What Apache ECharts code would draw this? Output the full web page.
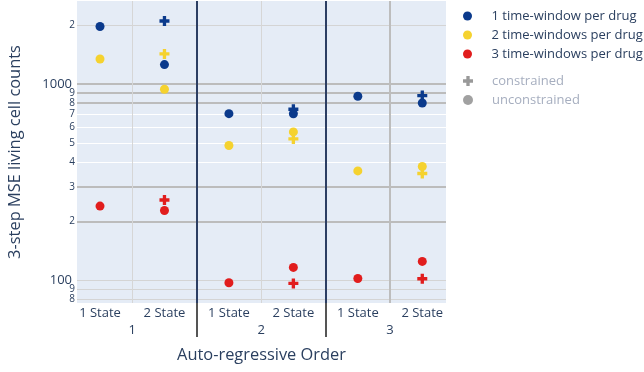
<!DOCTYPE html>
<html>
<head>
<meta charset="utf-8">
<script src="https://cdn.jsdelivr.net/npm/echarts@6/dist/echarts.min.js"></script>
<style>
  html, body { margin: 0; padding: 0; background: #fff; }
  #chart { width: 644px; height: 372px; }
</style>
</head>
<body>
<div id="chart"></div>
<script>
// Outer categories (auto-regressive order) and inner categories (number of states)
const orders = ['1', '2', '3'];
const states = ['1 State', '2 State'];
const windowNames = ['1 time-window per drug', '2 time-windows per drug', '3 time-windows per drug'];
const windowColors = ['#0b3a8c', '#f5d22f', '#e11d1d'];

// Unconstrained fits: one value per (order, state), ordered 1/1S, 1/2S, 2/1S, 2/2S, 3/1S, 3/2S
const oneWindowFree = [1960, 1254, 706, 705, 866, 800];
const twoWindowsFree = [1340, 940, 486, 570, 361, 380];
const threeWindowsFree = [239, 227, 97.4, 116.5, 102.3, 125];

// Constrained fits exist only for the 2-state models, one value per order
const oneWindowConstrained = [2090, 743, 872];
const twoWindowsConstrained = [1421, 525, 350];
const threeWindowsConstrained = [256.6, 96.6, 102];

// Log-axis ticks and their labels
const yTickValues = [80, 90, 100, 200, 300, 400, 500, 600, 700, 800, 900, 1000, 2000];
const yTickLabels = ['8', '9', '100', '2', '3', '4', '5', '6', '7', '8', '9', '1000', '2'];

const FONT = '"Open Sans", "DejaVu Sans", sans-serif';
const TEXT = '#2a3f5f';
const CROSS = 'path://M4,0H8V4H12V8H8V12H4V8H0V4H4Z';

// position of each (order, state) pair on the x scale
const slot = (o, s) => o * states.length + s;
const slots = [];
orders.forEach((o, oi) => states.forEach((s, si) => slots.push(slot(oi, si))));
const orderCenters = orders.map((o, oi) => slot(oi, 0) + (states.length - 1) / 2);
const stateBounds = orders.map((o, oi) => slot(oi, 0) + 0.5);
const orderBounds = orders.slice(1).map((o, oi) => slot(oi + 1, 0) - 0.5);

const xMin = -0.357, xMax = 5.368;
const yMin = 76.8, yMax = 2642;

const freeSets = [oneWindowFree, twoWindowsFree, threeWindowsFree];
const constrainedSets = [oneWindowConstrained, twoWindowsConstrained, threeWindowsConstrained];

const series = [];
windowNames.forEach((name, k) => {
  series.push({
    name, type: 'scatter', symbol: 'circle', symbolSize: 9,
    itemStyle: { color: windowColors[k], opacity: 1 },
    data: freeSets[k].map((v, i) => [slots[i], v])
  });
  series.push({
    name, type: 'scatter', symbol: CROSS, symbolSize: 10,
    itemStyle: { color: windowColors[k], opacity: 1 },
    data: constrainedSets[k].map((v, oi) => [slot(oi, 1), v])
  });
});
// legend-only entries for the marker shapes
series.push({ name: 'constrained', type: 'scatter', itemStyle: { color: '#808080' }, data: [] });
series.push({ name: 'unconstrained', type: 'scatter', itemStyle: { color: '#8a8a8a' }, data: [] });

const baseX = {
  type: 'value', min: xMin, max: xMax, position: 'bottom',
  axisLine: { show: false },
  axisLabel: { show: false },
  axisTick: { show: false },
  splitLine: { show: true }
};
const baseY = {
  type: 'log', logBase: 10, min: yMin, max: yMax, position: 'left',
  axisLine: { show: false },
  axisLabel: { show: false },
  axisTick: { show: false },
  splitLine: { show: true }
};

const legendText = { fontSize: 13, lineHeight: 14, fontFamily: FONT };

const option = {
  animation: false,
  backgroundColor: '#ffffff',
  textStyle: { fontFamily: FONT },
  grid: {
    left: 77, top: 1, right: 198, bottom: 69,
    containLabel: false, outerBoundsMode: 'none',
    show: true, backgroundColor: '#e5ecf6', borderWidth: 0
  },
  legend: [
    {
      orient: 'vertical', left: 463, top: 9, padding: 0,
      itemWidth: 38, itemHeight: 9, itemGap: 5,
      selectedMode: false,
      icon: 'circle',
      data: windowNames,
      textStyle: Object.assign({ color: TEXT }, legendText)
    },
    {
      orient: 'vertical', left: 463, top: 74, padding: 0,
      itemWidth: 38, itemHeight: 10, itemGap: 5,
      selectedMode: false,
      data: [{ name: 'constrained', icon: CROSS }, { name: 'unconstrained', icon: 'circle' }],
      textStyle: Object.assign({ color: '#a6aebf' }, legendText)
    }
  ],
  xAxis: [
    Object.assign({}, baseX, {
      axisTick: { show: false, customValues: stateBounds.slice(0, 2) },
      splitLine: { show: true, lineStyle: { color: '#d6d6d6', width: 1 } },
      axisLabel: {
        show: true, customValues: slots, margin: 4,
        formatter: v => states[Math.round(v) % states.length],
        color: TEXT, fontSize: 13, fontFamily: FONT
      },
      name: 'Auto-regressive Order', nameLocation: 'middle', nameGap: 44,
      nameTextStyle: { color: TEXT, fontSize: 16.4, fontFamily: FONT }
    }),
    Object.assign({}, baseX, {
      axisTick: { show: false, customValues: stateBounds.slice(2) },
      splitLine: { show: true, lineStyle: { color: '#bdbdbd', width: 2 } }
    }),
    Object.assign({}, baseX, {
      z: 1,
      axisTick: {
        show: true, customValues: orderBounds, length: 34, inside: false,
        lineStyle: { color: '#555555', width: 2 }
      },
      splitLine: { show: true, lineStyle: { color: '#2c3e63', width: 2 } },
      axisLabel: {
        show: true, customValues: orderCenters, margin: 21,
        formatter: v => orders[orderCenters.indexOf(v)],
        color: TEXT, fontSize: 13, fontFamily: FONT
      }
    })
  ],
  yAxis: [
    Object.assign({}, baseY, {
      axisTick: { show: false, customValues: [200, 300, 800, 900, 1000] },
      splitLine: { show: true, lineStyle: { color: '#bcbcbc', width: 2 } },
      axisLabel: {
        show: true, customValues: yTickValues, margin: 2,
        formatter: v => {
          const t = yTickLabels[yTickValues.indexOf(v)];
          return t.length > 1 ? '{big|' + t + '}' : '{small|' + t + '}';
        },
        rich: {
          big: { fontSize: 13, color: TEXT, fontFamily: FONT, padding: [0, 3, 0, 0] },
          small: { fontSize: 10, color: TEXT, fontFamily: FONT }
        }
      },
      name: '3-step MSE living cell counts', nameLocation: 'middle', nameGap: 54,
      nameTextStyle: { color: TEXT, fontSize: 16.4, fontFamily: FONT }
    }),
    Object.assign({}, baseY, {
      axisTick: { show: false, customValues: [80, 90, 100, 2000] },
      splitLine: { show: true, lineStyle: { color: '#d4d4d4', width: 1 } }
    }),
    Object.assign({}, baseY, {
      axisTick: { show: false, customValues: [400, 500, 600, 700] },
      splitLine: { show: true, lineStyle: { color: '#ffffff', width: 1 } }
    })
  ],
  series
};

const chart = echarts.init(document.getElementById('chart'), null, { renderer: 'canvas' });
chart.setOption(option);
</script>
</body>
</html>
